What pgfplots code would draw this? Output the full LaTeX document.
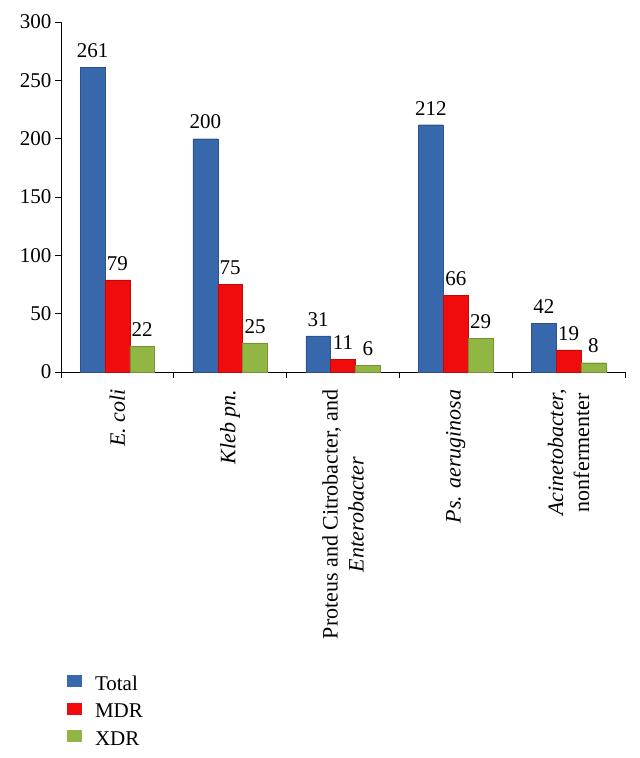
\documentclass[border=0pt]{standalone}
\usepackage{pgfplots}
\pgfplotsset{compat=1.18}
\usepackage{fontspec}
\setmainfont{Liberation Serif}
\definecolor{cblue}{RGB}{56,104,172}
\definecolor{cred}{RGB}{240,12,12}
\definecolor{cgreen}{RGB}{146,182,68}
\begin{document}
\begin{tikzpicture}
\begin{axis}[
  scale only axis,
  width=564pt, height=350pt,
  xmin=-0.5, xmax=4.5,
  ymin=0, ymax=300,
  ytick={0,50,...,300},
  axis x line*=bottom, axis y line*=left,
  axis line style={black, line width=0.8pt},
  xtick={0,1,2,3,4},
  xticklabels={{\textit{E. coli}},{\textit{Kleb pn.}},{Proteus and Citrobacter, and\\\textit{Enterobacter}},{\textit{Ps. aeruginosa}},{\textit{Acinetobacter,}\\nonfermenter}},
  major x tick style={draw=none},
  minor xtick={-0.5,0.5,...,4.5},
  minor x tick style={black, line width=0.8pt},
  minor tick length=6pt,
  major tick length=6pt,
  tick align=outside,
  y tick style={black, line width=0.8pt},
  x tick label style={rotate=90, anchor=east, align=center, font=\fontsize{22}{26}\selectfont, xshift=-8pt},
  y tick label style={font=\fontsize{21}{24}\selectfont},
  /pgf/number format/assume math mode=true,
  ybar=0pt, bar width=0.22,
  nodes near coords,
  nodes near coords style={font=\fontsize{21}{24}\selectfont, yshift=6pt},
  every node near coord/.append style={/pgf/number format/assume math mode=true},
  legend style={at={(0.005,-0.85)}, anchor=north west, draw=none, font=\fontsize{21}{24}\selectfont, row sep=6pt},
  legend cell align=left,
  legend image code/.code={\path[fill=none, draw=none] (0,0) rectangle (26pt,12pt); \fill[#1, draw=none, overlay] (0,-3pt) rectangle (15pt,9pt);},
]
\addplot[fill=cblue, draw=cblue!80!black, line width=0.3pt] coordinates {(0,261) (1,200) (2,31) (3,212) (4,42)};
\addplot[fill=cred, draw=cred!80!black, line width=0.3pt] coordinates {(0,79) (1,75) (2,11) (3,66) (4,19)};
\addplot[fill=cgreen, draw=cgreen!80!black, line width=0.3pt] coordinates {(0,22) (1,25) (2,6) (3,29) (4,8)};
\legend{Total, MDR, XDR}
\coordinate (o) at (rel axis cs:0,0);
\end{axis}
\path (o) ++(-61pt,-386pt) rectangle ++(640pt,758pt);
\end{tikzpicture}
\end{document}
